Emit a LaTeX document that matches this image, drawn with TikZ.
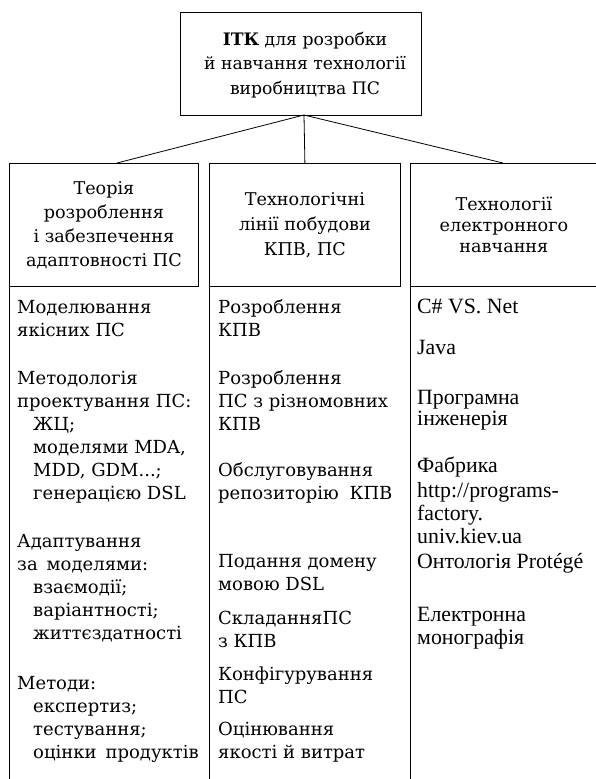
\documentclass[tikz,border=0pt]{standalone}
\usepackage{fontspec}
\setmainfont{DejaVu Serif}
\newfontfamily\rfont{Liberation Serif}
\begin{document}
\begin{tikzpicture}[x=1pt,y=-1pt,
  box/.style={draw, line width=0.8pt, inner sep=0pt, align=center, font=\fontsize{17.6}{24}\selectfont},
  txt/.style={inner sep=0pt, align=center, font=\fontsize{17.2}{24.5}\selectfont},
  bl/.style={anchor=base west, inner sep=0pt, font=\fontsize{18}{23}\selectfont},
  rl/.style={anchor=base west, inner sep=0pt, font=\rfont\fontsize{21.8}{23}\selectfont},
  conn/.style={line width=0.8pt}]
\useasboundingbox (0,0) rectangle (596,779);
% top box
\node[draw, line width=0.8pt, minimum width=241, minimum height=103, anchor=north west, inner sep=0pt] (top) at (180,12) {};
\node[txt, anchor=base] (topt) at (305,94)
  {\textbf{ІТК} для розробки\\ й навчання технології\\ виробництва ПС};
% headers
\node[box, minimum width=189, minimum height=123, anchor=north west] (h1) at (9,163)
  {Теорія\\ розроблення\\ і забезпечення\\ адаптовності ПС};
\node[box, minimum width=191, minimum height=123, anchor=north west, font=\fontsize{17.6}{25}\selectfont] (h2) at (209,163)
  {Технологічні\\ лінії побудови\\ КПВ, ПС};
\node[box, minimum width=187, minimum height=123, anchor=north west, font=\fontsize{17.6}{21}\selectfont] (h3) at (410,163)
  {Технології\\ електронного\\ навчання};
% connectors
\coordinate (v) at (304,115);
\coordinate (e1) at (117,163);
\coordinate (e3) at (503,163);
\draw[conn] (v) -- (e1);
\draw[conn] (v) -- (h2.north);
\draw[conn] (v) -- (e3);
\coordinate (b1) at (9,781);
\coordinate (b2) at (209,781);
\coordinate (b3) at (410,781);
\draw[conn] (h1.south west) -- (b1);
\draw[conn] (h2.south west) -- (b2);
\draw[conn] (h3.south west) -- (b3);
% left column
\node[bl] (l1) at (17,313) {Моделювання};
\node[bl] (l2) at (17,336) {якісних ПС};
\node[bl] (l3) at (17,384) {Методологія};
\node[bl] (l4) at (17,407) {проектування ПС:};
\node[bl] (l5) at (33,430) {ЖЦ;};
\node[bl] (l6) at (33,453) {моделями MDA,};
\node[bl] (l7) at (33,476) {MDD, GDM...;};
\node[bl] (l8) at (33,499) {генерацією DSL};
\node[bl] (l9) at (17,547) {Адаптування};
\node[bl] (l10) at (17,570) {за\hspace{0.5em}моделями:};
\node[bl] (l11) at (33,593) {взаємодії;};
\node[bl] (l12) at (33,616) {варіантності;};
\node[bl] (l13) at (33,639) {життєздатності};
\node[bl] (l14) at (17,689) {Методи:};
\node[bl] (l15) at (33,712) {експертиз;};
\node[bl] (l16) at (33,735) {тестування;};
\node[bl] (l17) at (33,758) {оцінки\hspace{0.5em}продуктів};
% middle column
\node[bl] (m1) at (218,313) {Розроблення};
\node[bl] (m2) at (218,336) {КПВ};
\node[bl] (m3) at (218,384) {Розроблення};
\node[bl] (m4) at (218,407) {ПС з різномовних};
\node[bl] (m5) at (218,430) {КПВ};
\node[bl] (m6) at (218,476) {Обслуговування};
\node[bl] (m7) at (218,499) {репозиторію\hspace{0.6em}КПВ};
\node[bl] (m8) at (218,567) {Подання домену};
\node[bl] (m9) at (218,590) {мовою DSL};
\node[bl] (m10) at (218,624) {СкладанняПС};
\node[bl] (m11) at (218,647) {з КПВ};
\node[bl] (m12) at (218,680) {Конфігурування};
\node[bl] (m13) at (218,703) {ПС};
\node[bl] (m14) at (218,735) {Оцінювання};
\node[bl] (m15) at (218,758) {якості й витрат};
% right column
\node[rl] (r1) at (417,313) {C\# VS. Net};
\node[rl] (r2) at (417,354) {Java};
\node[rl] (r3) at (417,404) {Програмна};
\node[rl] (r4) at (417,425) {інженерія};
\node[rl] (r5) at (417,472) {Фабрика};
\node[rl] (r6) at (417,497) {http://programs-};
\node[rl] (r7) at (417,520) {factory.};
\node[rl] (r8) at (417,543) {univ.kiev.ua};
\node[rl] (r9) at (417,568) {Онтологія Protégé};
\node[rl] (r10) at (417,621) {Електронна};
\node[rl] (r11) at (417,644) {монографія};
\end{tikzpicture}
\end{document}
